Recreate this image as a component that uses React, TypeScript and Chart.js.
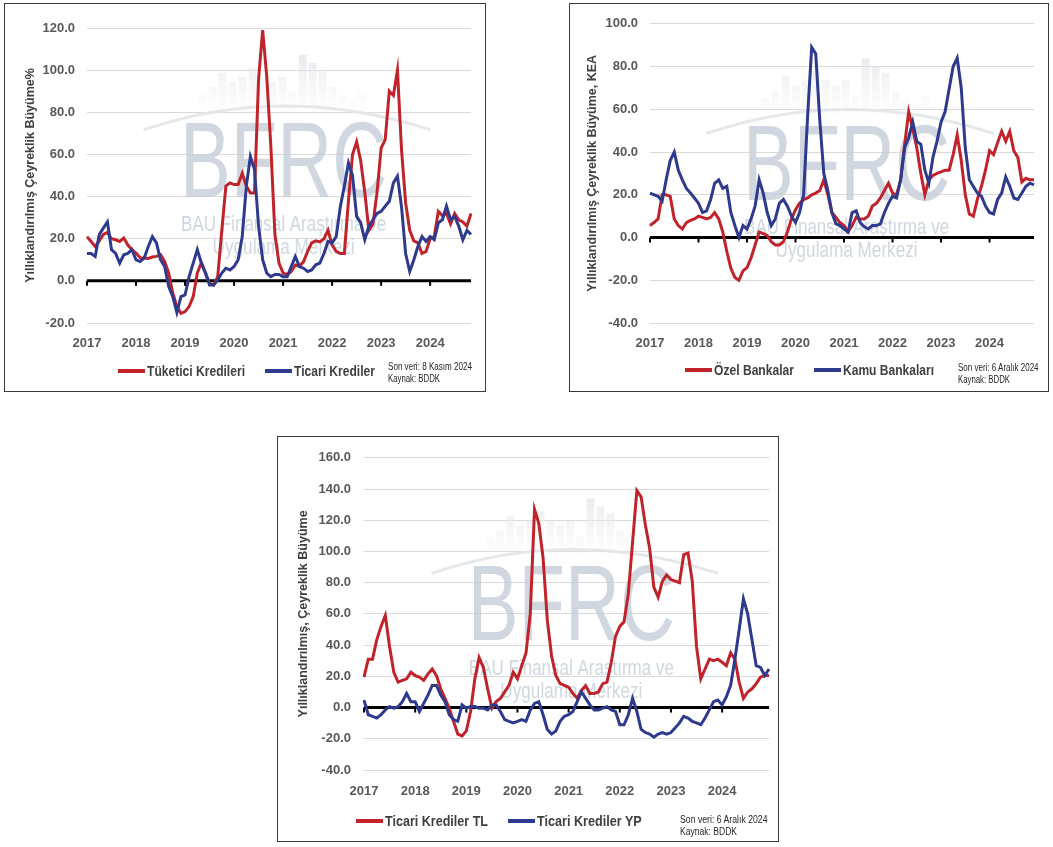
import React, { useEffect, useRef } from "react";
import { Chart, registerables } from "chart.js";

Chart.register(...registerables);

const RED = "#C1232B";
const BLUE = "#2E3A8E";
const FONT = '"Liberation Sans", Arial, sans-serif';

const YEAR_LABELS = ["2017", "2018", "2019", "2020", "2021", "2022", "2023", "2024"];

// Panel 1 (monthly, Jan 2017 - Nov 2024)
const consumerLoans = [
  21, 18.7, 16.3, 19, 22, 23, 20, 19.5, 18.7, 20.3, 17, 14.8,
  13.2, 11, 10.8, 10.6, 11.3, 11.6, 12.4, 9.2, 3.7, -5.9, -12.2, -15.4,
  -14.6, -12.2, -7.5, 3.7, 8.7, 3.7, -1, -2, 2, 24, 45, 46.5,
  45.7, 45.7, 51, 45, 41.7, 41.7, 95.7, 119, 97, 64, 22, 8.4,
  3.7, 3, 4.5, 7.5, 7, 9, 14, 18, 19, 18.5, 20, 24,
  17, 14, 13, 13, 38, 60, 66, 57, 42, 24, 27, 42,
  63, 67, 90, 88, 100, 62, 37, 24, 19, 18, 13, 14,
  20, 21, 33, 31, 32, 27, 32, 29, 28, 26, 32,
];
const commercialLoans = [
  13, 13, 11.6, 22, 25, 28, 14.8, 13, 8.4, 12.4, 13, 14.8,
  10, 9.2, 10.8, 16.3, 21, 18, 10, 6.8, -2.7, -7.5, -15, -7.5,
  -6.7, 2, 8.4, 14.8, 8.4, 3.7, -2, -2, 0.5, 3.7, 6, 5.2,
  6.8, 10, 21, 45, 59, 53, 26, 10, 3.7, 2, 3, 3,
  2, 2, 6.8, 11.6, 6.8, 6, 4.4, 5.2, 7.6, 8.4, 13, 18.7,
  18, 21, 35, 45, 56, 50, 30.6, 27.5, 19.5, 26, 29, 32,
  33, 35.4, 37.8, 46.5, 49.7, 35, 13, 4.4, 10, 16.3, 21, 18.7,
  21, 19.5, 27.5, 29, 35.4, 29, 30.6, 26, 19.5, 24, 22,
];

// Panel 2 (monthly, Jan 2017 - Dec 2024)
const privateBanks = [
  5.6, 7, 8.7, 20, 20, 19.3, 8.7, 5.6, 4, 7, 8, 8.7,
  10, 9.4, 8.7, 9.4, 11.7, 8.7, 2.6, -6.5, -14.4, -18.7, -20, -15.6,
  -14.1, -9.6, -3.5, 2.6, 1.8, 1, -2, -3.5, -3.5, -2, 2.6, 8.7,
  13, 16, 17.8, 18.5, 20, 20.8, 22, 27, 20, 11.7, 9.4, 7,
  5.6, 2.6, 5.6, 9.4, 8.7, 8.7, 10, 14.7, 16, 18.5, 22, 25.4,
  20.8, 20, 27, 43.6, 58.8, 51, 42, 30, 20, 27, 29, 30,
  30.7, 31.5, 31.5, 38.8, 48, 36, 20, 11, 10, 18, 24, 31.5,
  40.6, 38.8, 44.4, 49.7, 45, 49.7, 40.6, 37.5, 26, 27.7, 27, 27,
];
const publicBanks = [
  20.8, 20, 19.3, 17, 27, 36, 40, 31.5, 27, 23, 20.8, 18.5,
  16, 11.7, 12.5, 17.8, 25.4, 27, 23, 24, 11.7, 5.6, 0, 5.6,
  4, 8.7, 14.7, 27, 20.8, 11.7, 5.6, 8.7, 16, 17.8, 14.7, 10,
  7, 11.7, 20, 57, 89, 86, 55, 30, 22, 11.7, 6.4, 5.6,
  4, 2.6, 11.7, 12.5, 7, 5, 4, 5.6, 5.6, 6.4, 11.7, 16,
  19.3, 18.5, 27, 42, 46.7, 54, 45, 43.6, 31.5, 25.4, 37.5, 45,
  54, 58.8, 69.5, 80, 84, 70, 42, 27, 23.9, 20.8, 19.3, 14.7,
  11.7, 11, 17.8, 20.8, 28.4, 24, 18.5, 17.8, 20.8, 24, 25.4, 24.6,
];

// Panel 3 (monthly, Jan 2017 - Dec 2024)
const commercialTL = [
  19.5, 31, 31, 43.5, 52, 59, 39, 22.6, 16.3, 17.4, 18.4, 22.6,
  20.5, 19.5, 17.4, 21.5, 24.7, 20.5, 12, 5.9, -0.4, -8.8, -17, -18.2,
  -15, -2.5, 18.4, 32, 25.7, 12, -0.4, 3.8, 5.9, 10, 14.2, 22.6,
  18.4, 26.8, 35, 60, 127, 118, 96, 56, 33, 20.5, 15.3, 14.2,
  13, 9, 6, 11, 14, 9, 9, 10, 15.3, 16.3, 29, 45.6,
  52, 55, 73, 106, 139, 135, 117, 102, 77, 70.7, 81, 85,
  82, 81, 80, 98, 99, 81, 39, 18.4, 24.7, 31, 30, 31,
  29, 26.8, 35, 31, 16.3, 5.9, 10, 12, 15.3, 19.5, 20.5, 20.5,
];
const commercialFX = [
  4.8, -4.6, -5.6, -6.7, -4.6, -1.5, 0.6, -0.4, 0.6, 3.8, 9, 3.8,
  3.8, -2.5, 2.7, 8, 14.2, 14.2, 8, 3.8, -4.6, -7.7, -8.8, 1.7,
  -0.4, 0.6, 0.6, -0.4, -0.4, -1.5, 1.7, 1.7, -2.5, -7.7, -8.8, -9.8,
  -8.8, -7.7, -8.8, -1.5, 2.7, 3.8, -4.6, -14, -17, -15, -8.8, -5.6,
  -4.6, -2.5, 3.8, 10, 5.9, 1.7, -1.5, -1.5, -0.4, 0.6, -1.5, -2.5,
  -11, -11, -4.6, 5.9, -2.5, -14, -16, -17, -19, -17, -16, -17,
  -16, -13, -9.8, -5.6, -6.7, -8.8, -9.8, -11, -6.7, -1.5, 3.8, 4.8,
  1.7, 6.9, 14.2, 31, 49.8, 69.7, 60, 43.5, 26.8, 25.7, 20.5, 24.7,
];

// decorative watermark skyline (offsets from watermark centre)
const WATERMARK_BAR_TOPS = [-72, -80, -94, -85, -90, -99, -90, -85, -90, -75, -112, -104, -97, -80, -72, -67, -75];

function monthCategories(count: number): string[] {
  const out: string[] = [];
  for (let i = 0; i < count; i++) {
    const y = YEAR_LABELS[Math.floor(i / 12)];
    out.push(`${y}-${String((i % 12) + 1).padStart(2, "0")}`);
  }
  return out;
}

let measureCtx: CanvasRenderingContext2D | null = null;
function measure(text: string, font: string): number {
  if (!measureCtx) measureCtx = document.createElement("canvas").getContext("2d");
  if (!measureCtx) return text.length * 7;
  measureCtx.font = font;
  return measureCtx.measureText(text).width || 1;
}

function FitText(props: { text: string; width: number; size: number; weight: string; color: string; lh: number }) {
  const font = `${props.weight} ${props.size}px ${FONT}`;
  const s = props.width / measure(props.text, font);
  return (
    <span style={{ display: "inline-block", width: props.width, height: props.lh, whiteSpace: "nowrap", overflow: "visible" }}>
      <span
        style={{
          display: "inline-block",
          font,
          lineHeight: `${props.lh}px`,
          color: props.color,
          transform: `scaleX(${s})`,
          transformOrigin: "0 50%",
        }}
      >
        {props.text}
      </span>
    </span>
  );
}

function fitText(ctx: CanvasRenderingContext2D, text: string, cx: number, cy: number, target: number, font: string, color: string) {
  ctx.save();
  ctx.font = font;
  const w = ctx.measureText(text).width || 1;
  ctx.translate(cx, cy);
  ctx.scale(target / w, 1);
  ctx.textAlign = "center";
  ctx.textBaseline = "middle";
  ctx.fillStyle = color;
  ctx.fillText(text, 0, 0);
  ctx.restore();
}

const decorPlugin = {
  id: "decor",
  beforeDatasetsDraw(chart: any, _args: any, opts: any) {
    const { ctx, chartArea: a, scales } = chart;
    const cx = a.left + a.width * 0.512;
    const cy = a.top + a.height * (opts.wmY ?? 0.48);
    ctx.save();
    const grad = ctx.createLinearGradient(0, cy - 112, 0, cy - 55);
    grad.addColorStop(0, "rgba(224,227,231,0.75)");
    grad.addColorStop(1, "rgba(240,242,244,0.1)");
    ctx.fillStyle = grad;
    WATERMARK_BAR_TOPS.forEach((t, k) => {
      ctx.fillRect(cx - 85 + k * 10, cy + t, 8, -55 - t);
    });
    ctx.strokeStyle = "rgba(226,229,233,0.9)";
    ctx.lineWidth = 3;
    ctx.beginPath();
    ctx.moveTo(cx - 140, cy - 37);
    ctx.quadraticCurveTo(cx, cy - 85, cx + 147, cy - 37);
    ctx.stroke();
    const wm = "rgba(196,205,216,0.8)";
    fitText(ctx, "BFRC", cx, cy, 207, `108px ${FONT}`, wm);
    fitText(ctx, "BAU Finansal Araştırma ve", cx, cy + 58, 205, `22px ${FONT}`, wm);
    fitText(ctx, "Uygulama Merkezi", cx, cy + 81, 142, `22px ${FONT}`, wm);

    const y0 = scales.y.getPixelForValue(0);
    ctx.strokeStyle = "#000";
    ctx.lineWidth = 3;
    ctx.beginPath();
    ctx.moveTo(a.left, y0);
    ctx.lineTo(a.right, y0);
    ctx.stroke();
    ctx.lineWidth = 2;
    const n = chart.data.labels.length;
    for (let i = 0; i < n; i += 12) {
      const x = scales.x.getPixelForValue(i);
      ctx.beginPath();
      ctx.moveTo(x, y0);
      ctx.lineTo(x, y0 + 5);
      ctx.stroke();
    }
    ctx.restore();
  },
};

type Series = { label: string; data: number[]; color: string; textWidth: number };
type PanelProps = {
  left: number; top: number; width: number; height: number;
  yMin: number; yMax: number; yTitle: string; titlePad: number;
  yAxisWidth: number; yTickPad: number; padRight: number; padTop: number; padBottom: number;
  xAxisHeight: number; xTickPad: number;
  series: Series[];
  legendLeft: number; legendTop: number;
  note: string; noteWidth: number; sourceWidth: number; noteLeft: number; noteTop: number;
  wmY: number;
};

function Panel(p: PanelProps) {
  const ref = useRef<HTMLCanvasElement | null>(null);
  const cw = p.width - 2;
  const ch = p.height - 2;
  useEffect(() => {
    if (!ref.current) return;
    const labels = monthCategories(p.series[0].data.length);
    const chart = new Chart(ref.current, {
      type: "line",
      data: {
        labels,
        datasets: p.series.map((s, k) => ({
          label: s.label,
          data: s.data,
          borderColor: s.color,
          backgroundColor: s.color,
          borderWidth: 3,
          pointRadius: 0,
          tension: 0,
          order: p.series.length - k,
        })),
      },
      options: {
        responsive: false,
        animation: false,
        layout: { padding: { left: 0, right: p.padRight, top: p.padTop, bottom: p.padBottom } },
        plugins: {
          legend: { display: false },
          tooltip: { enabled: false },
          decor: { wmY: p.wmY },
        } as any,
        scales: {
          x: {
            type: "category",
            grid: { display: false },
            border: { display: false },
            ticks: {
              autoSkip: false,
              maxRotation: 0,
              minRotation: 0,
              padding: p.xTickPad,
              color: "#595959",
              font: { family: FONT, size: 13, weight: "bold" },
              callback: (_v: any, i: number) => (i % 12 === 0 ? labels[i].slice(0, 4) : ""),
            },
            afterFit: (s: any) => {
              s.height = p.xAxisHeight;
            },
          },
          y: {
            min: p.yMin,
            max: p.yMax,
            grid: {
              drawTicks: false,
              color: (c: any) => (c.tick && c.tick.value === 0 ? "rgba(0,0,0,0)" : "#d9d9d9"),
              lineWidth: 1,
            },
            border: { display: false },
            ticks: {
              stepSize: 20,
              padding: p.yTickPad,
              color: "#595959",
              font: { family: FONT, size: 13, weight: "bold" },
              callback: (v: any) => Number(v).toFixed(1),
            },
            title: {
              display: true,
              text: p.yTitle,
              color: "#404040",
              font: { family: FONT, size: 12.5, weight: "bold" },
              padding: { top: p.titlePad, bottom: 0 },
            },
            afterFit: (s: any) => {
              s.width = p.yAxisWidth;
            },
          },
        },
      } as any,
      plugins: [decorPlugin as any],
    });
    return () => chart.destroy();
  }, []);

  return (
    <div
      style={{
        position: "absolute",
        left: p.left,
        top: p.top,
        width: p.width,
        height: p.height,
        boxSizing: "border-box",
        border: "1px solid #3a3a3a",
        background: "#fff",
      }}
    >
      <canvas ref={ref} width={cw} height={ch} style={{ position: "absolute", left: 0, top: 0, width: cw, height: ch }} />
      <div
        style={{
          position: "absolute",
          left: p.legendLeft,
          top: p.legendTop,
          height: 18,
          display: "flex",
          alignItems: "center",
          whiteSpace: "nowrap",
        }}
      >
        {p.series.map((s, k) => (
          <div key={s.label} style={{ display: "flex", alignItems: "center", marginLeft: k ? 20 : 0 }}>
            <span style={{ display: "inline-block", width: 27, height: 4, background: s.color }} />
            <span style={{ display: "inline-block", marginLeft: 2 }}>
              <FitText text={s.label} width={s.textWidth} size={14} weight="bold" color="#404040" lh={18} />
            </span>
          </div>
        ))}
      </div>
      <div style={{ position: "absolute", left: p.noteLeft, top: p.noteTop, lineHeight: "12px" }}>
        <div style={{ height: 12 }}>
          <FitText text={p.note} width={p.noteWidth} size={10} weight="normal" color="#262626" lh={12} />
        </div>
        <div style={{ height: 12 }}>
          <FitText text="Kaynak: BDDK" width={p.sourceWidth} size={10} weight="normal" color="#262626" lh={12} />
        </div>
      </div>
    </div>
  );
}

export default function App() {
  return (
    <div style={{ position: "absolute", left: 0, top: 0, width: 1053, height: 847, background: "#fff" }}>
      <Panel
        left={4} top={3} width={482} height={389}
        yMin={-20} yMax={120} yTitle="Yıllıklandırılmış Çeyreklik Büyüme%" titlePad={18}
        yAxisWidth={82} yTickPad={12} padRight={14} padTop={24} padBottom={38}
        xAxisHeight={30} xTickPad={5}
        series={[
          { label: "Tüketici Kredileri", data: consumerLoans, color: RED, textWidth: 98 },
          { label: "Ticari Krediler", data: commercialLoans, color: BLUE, textWidth: 81 },
        ]}
        legendLeft={113} legendTop={358}
        note="Son veri: 8 Kasım 2024" noteWidth={84} sourceWidth={52} noteLeft={383} noteTop={355}
        wmY={0.471}
      />
      <Panel
        left={569} top={3} width={480} height={389}
        yMin={-40} yMax={100} yTitle="Yıllıklandırılmış Çeyreklik Büyüme, KEA" titlePad={15}
        yAxisWidth={80} yTickPad={12} padRight={14} padTop={13} padBottom={38}
        xAxisHeight={30} xTickPad={5}
        series={[
          { label: "Özel Bankalar", data: privateBanks, color: RED, textWidth: 80 },
          { label: "Kamu Bankaları", data: publicBanks, color: BLUE, textWidth: 91 },
        ]}
        legendLeft={115} legendTop={357}
        note="Son veri: 6 Aralık 2024" noteWidth={81} sourceWidth={52} noteLeft={388} noteTop={356}
        wmY={0.49}
      />
      <Panel
        left={277} top={436} width={502} height={406}
        yMin={-40} yMax={160} yTitle="Yıllıklandırılmış, Çeyreklik Büyüme" titlePad={18}
        yAxisWidth={86} yTickPad={13} padRight={9} padTop={14} padBottom={41}
        xAxisHeight={30} xTickPad={6}
        series={[
          { label: "Ticari Krediler TL", data: commercialTL, color: RED, textWidth: 103 },
          { label: "Ticari Krediler YP", data: commercialFX, color: BLUE, textWidth: 105 },
        ]}
        legendLeft={78} legendTop={375}
        note="Son veri: 6 Aralık 2024" noteWidth={88} sourceWidth={57} noteLeft={402} noteTop={375}
        wmY={0.489}
      />
    </div>
  );
}
